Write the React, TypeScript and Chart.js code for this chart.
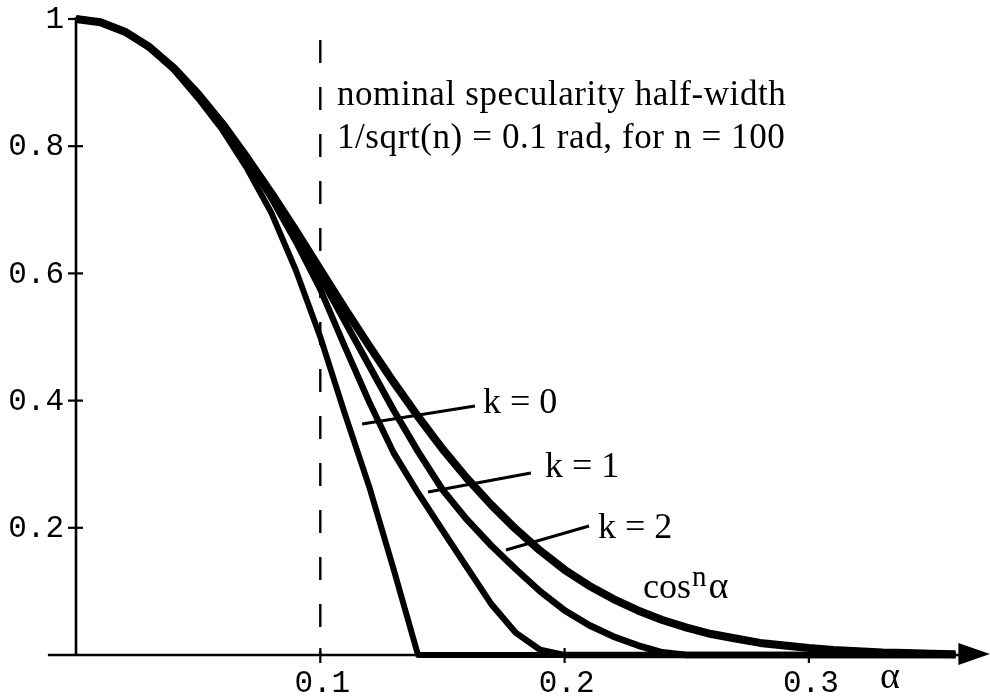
import React, { useEffect, useRef } from "react";
import { Chart, registerables } from "chart.js";

Chart.register(...registerables);

// angle alpha (rad)
const alphas = [
  0, 0.01, 0.02, 0.03, 0.04, 0.05, 0.06, 0.07, 0.08, 0.09, 0.1, 0.11, 0.12,
  0.13, 0.14, 0.15, 0.16, 0.17, 0.18, 0.19, 0.2, 0.21, 0.22, 0.23, 0.24, 0.25,
  0.26, 0.27, 0.28, 0.29, 0.3, 0.31, 0.32, 0.33, 0.34, 0.35, 0.36,
];

const cosN = [
  1, 0.995, 0.98, 0.956, 0.923, 0.882, 0.835, 0.782, 0.726, 0.667, 0.606,
  0.545, 0.486, 0.429, 0.375, 0.324, 0.278, 0.236, 0.198, 0.164, 0.134, 0.109,
  0.088, 0.07, 0.055, 0.043, 0.033, 0.026, 0.019, 0.015, 0.011, 0.008, 0.006,
  0.004, 0.003, 0.002, 0.001,
];

const k0 = [
  1, 0.995, 0.98, 0.955, 0.92, 0.875, 0.825, 0.765, 0.695, 0.605, 0.5, 0.38,
  0.265, 0.135, 0, 0, 0, 0, 0, 0, 0, 0, 0, 0, 0, 0, 0, 0, 0, 0, 0, 0, 0, 0, 0,
  0, 0,
];

const k1 = [
  1, 0.995, 0.98, 0.955, 0.922, 0.88, 0.832, 0.778, 0.718, 0.65, 0.575, 0.485,
  0.398, 0.318, 0.255, 0.196, 0.138, 0.08, 0.035, 0.008, 0, 0, 0, 0, 0, 0, 0,
  0, 0, 0, 0, 0, 0, 0, 0, 0, 0,
];

const k2 = [
  1, 0.995, 0.98, 0.956, 0.922, 0.881, 0.834, 0.78, 0.722, 0.66, 0.595, 0.525,
  0.455, 0.385, 0.32, 0.26, 0.213, 0.172, 0.135, 0.1, 0.07, 0.047, 0.029,
  0.015, 0.004, 0, 0, 0, 0, 0, 0, 0, 0, 0, 0, 0, 0,
];

const xTicks = [0.1, 0.2, 0.3];
const xTickLabels = ["0.1", "0.2", "0.3"];
const yTicks = [0.2, 0.4, 0.6, 0.8, 1];
const yTickLabels = ["0.2", "0.4", "0.6", "0.8", "1"];

const noteLines = [
  "nominal specularity half-width",
  "1/sqrt(n) = 0.1 rad, for n = 100",
];
const curveLabels = ["k = 0", "k = 1", "k = 2"];
const nominalWidth = 0.1;

// layout of annotations in data coordinates
const curveLabelPos = [
  { x: 0.1666, y: 0.3805, lx1: 0.1171, ly1: 0.3632, lx2: 0.1633, ly2: 0.3915 },
  { x: 0.192, y: 0.2799, lx1: 0.1441, ly1: 0.2563, lx2: 0.1862, ly2: 0.2862 },
  { x: 0.2137, y: 0.184, lx1: 0.176, ly1: 0.1651, lx2: 0.21, ly2: 0.2028 },
];

const toPts = (ys: number[]) => alphas.map((a, i) => ({ x: a, y: ys[i] }));

const decorPlugin = {
  id: "decor",
  beforeDatasetsDraw(chart: any) {
    const ctx = chart.ctx as CanvasRenderingContext2D;
    const xs = chart.scales.x;
    const ys = chart.scales.y;
    const X = (v: number) => xs.getPixelForValue(v);
    const Y = (v: number) => ys.getPixelForValue(v);
    ctx.save();
    ctx.strokeStyle = "#000";
    ctx.fillStyle = "#000";
    ctx.lineWidth = 2.6;
    ctx.lineCap = "butt";
    // x axis
    const x0 = X(-0.0115);
    const xEnd = X(0.362);
    ctx.beginPath();
    ctx.moveTo(x0, Y(0));
    ctx.lineTo(xEnd, Y(0));
    ctx.stroke();
    // arrow head
    const tip = X(0.3741);
    ctx.beginPath();
    ctx.moveTo(tip, Y(0) - 1);
    ctx.lineTo(xEnd - 2, Y(0) - 12);
    ctx.lineTo(xEnd - 2, Y(0) + 10);
    ctx.closePath();
    ctx.fill();
    // y axis
    ctx.beginPath();
    ctx.moveTo(X(0), Y(0));
    ctx.lineTo(X(0), Y(1.003));
    ctx.stroke();
    // ticks
    ctx.lineWidth = 2.2;
    yTicks.forEach((t) => {
      ctx.beginPath();
      ctx.moveTo(X(0) - 8, Y(t));
      ctx.lineTo(X(0) + 7, Y(t));
      ctx.stroke();
    });
    xTicks.forEach((t) => {
      ctx.beginPath();
      ctx.moveTo(X(t), Y(0) - 7);
      ctx.lineTo(X(t), Y(0) + 8);
      ctx.stroke();
    });
    // tick labels
    ctx.font = "31px 'Liberation Mono'";
    ctx.textAlign = "right";
    ctx.textBaseline = "middle";
    yTicks.forEach((t, i) => {
      ctx.fillText(yTickLabels[i], X(0) - 12, Y(t) + 1);
    });
    ctx.textAlign = "center";
    ctx.textBaseline = "alphabetic";
    xTicks.forEach((t, i) => {
      ctx.fillText(xTickLabels[i], X(t) + 2, Y(0) + 37);
    });
    // dashed nominal line
    ctx.lineWidth = 2.4;
    ctx.setLineDash([23, 24]);
    ctx.beginPath();
    ctx.moveTo(X(nominalWidth), Y(0.967));
    ctx.lineTo(X(nominalWidth), Y(0));
    ctx.stroke();
    ctx.setLineDash([]);
    ctx.restore();
  },
  afterDatasetsDraw(chart: any) {
    const ctx = chart.ctx as CanvasRenderingContext2D;
    const xs = chart.scales.x;
    const ys = chart.scales.y;
    const X = (v: number) => xs.getPixelForValue(v);
    const Y = (v: number) => ys.getPixelForValue(v);
    ctx.save();
    ctx.fillStyle = "#000";
    ctx.strokeStyle = "#000";
    ctx.textAlign = "left";
    ctx.textBaseline = "alphabetic";
    ctx.font = "35px 'Liberation Serif'";
    (ctx as any).letterSpacing = "0.6px";
    ctx.fillText(noteLines[0], X(0.1068), Y(0.8648));
    ctx.fillText(noteLines[1], X(0.1068), Y(0.797));
    (ctx as any).letterSpacing = "0px";
    ctx.font = "36px 'Liberation Serif'";
    ctx.lineWidth = 3;
    curveLabelPos.forEach((p, i) => {
      ctx.beginPath();
      ctx.moveTo(X(p.lx1), Y(p.ly1));
      ctx.lineTo(X(p.lx2), Y(p.ly2));
      ctx.stroke();
      ctx.fillText(curveLabels[i], X(p.x), Y(p.y));
    });
    // cos^n alpha
    const cx = X(0.2321);
    const cy = Y(0.0896);
    ctx.fillText("cos", cx, cy);
    const w = ctx.measureText("cos").width;
    ctx.font = "29px 'Liberation Serif'";
    ctx.fillText("n", cx + w + 1, cy - 12);
    const wn = ctx.measureText("n").width;
    ctx.font = "38px 'Liberation Serif'";
    ctx.fillText("α", cx + w + wn + 3, cy);
    // axis label
    ctx.fillText("α", X(0.3291), Y(-0.0519));
    ctx.restore();
  },
};

export default function App() {
  const ref = useRef<HTMLCanvasElement | null>(null);
  useEffect(() => {
    if (!ref.current) return;
    const ds = (ys: number[], w: number) => ({
      data: toPts(ys),
      borderColor: "#000",
      borderWidth: w,
      pointRadius: 0,
      tension: 0,
      fill: false,
      borderJoinStyle: "round" as const,
    });
    const chart = new Chart(ref.current, {
      type: "line",
      data: {
        datasets: [ds(k0, 6), ds(k1, 6.3), ds(k2, 6.7), ds(cosN, 8)],
      },
      options: {
        animation: false,
        responsive: false,
        devicePixelRatio: 1,
        layout: { padding: 0 },
        plugins: { legend: { display: false }, tooltip: { enabled: false } },
        scales: {
          x: { type: "linear", display: false, min: -0.03111, max: 0.37413 },
          y: { type: "linear", display: false, min: -0.06447, max: 1.02987 },
        },
      },
      plugins: [decorPlugin],
    });
    return () => chart.destroy();
  }, []);
  return (
    <div
      style={{
        position: "fixed",
        left: 0,
        top: 0,
        width: 990,
        height: 696,
        background: "#fff",
      }}
    >
      <canvas ref={ref} width={990} height={696} />
    </div>
  );
}
